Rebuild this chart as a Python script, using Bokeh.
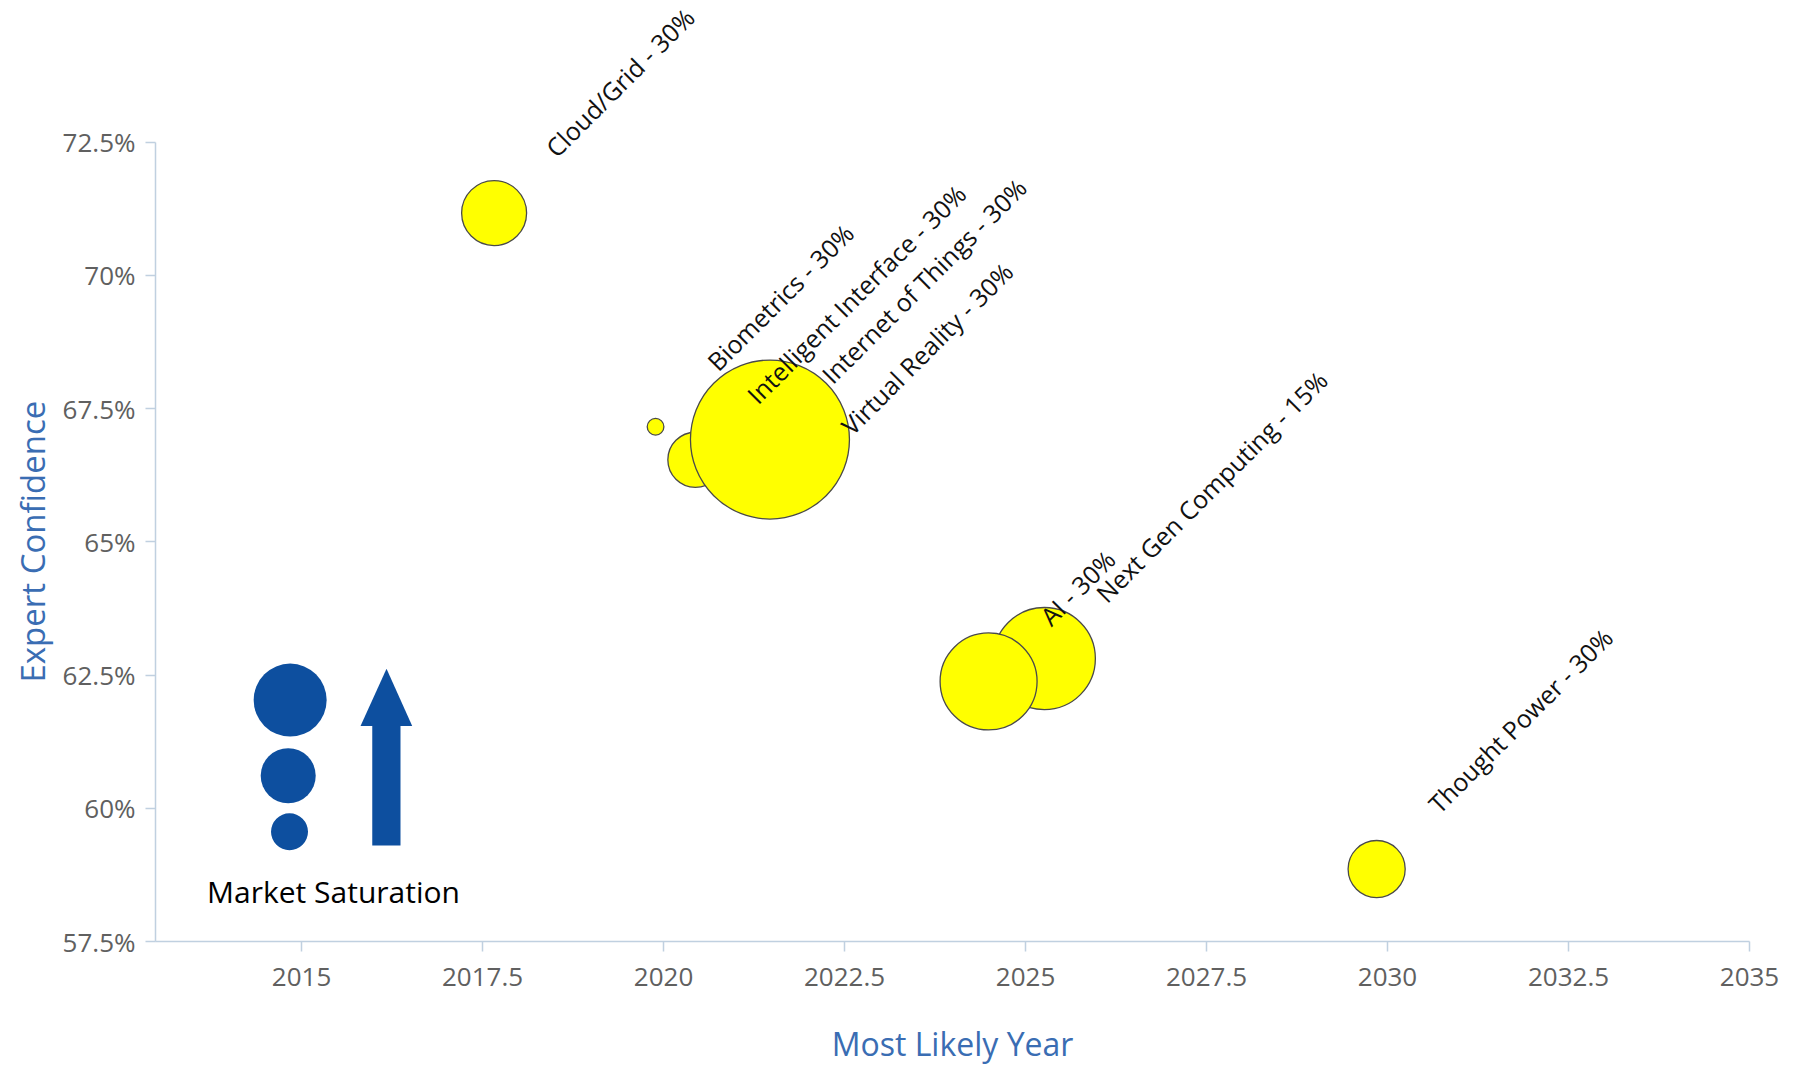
import math
from bokeh.plotting import figure
from bokeh.models import FixedTicker, Range1d, ColumnDataSource, LabelSet, Title
from bokeh.core.properties import value
from bokeh.embed import file_html
from bokeh.resources import INLINE

# ---------------- data ----------------
technologies = ["Cloud/Grid", "Biometrics", "Intelligent Interface", "Virtual Reality",
                "Internet of Things", "Next Gen Computing", "AI", "Thought Power"]
most_likely_year = [2017.66, 2019.89, 2020.44, 2021.74, 2021.47, 2025.26, 2024.49, 2029.85]
expert_confidence = [71.17, 67.16, 66.54, 65.96, 66.92, 62.81, 62.38, 58.86]
market_saturation = [16.7, 1.1, 12.0, 5.1, 100.0, 41.2, 37.2, 12.9]
label_percent = ["30%", "30%", "30%", "30%", "30%", "15%", "30%", "30%"]

x_ticks = [2015, 2017.5, 2020, 2022.5, 2025, 2027.5, 2030, 2032.5, 2035]
x_tick_labels = ["2015", "2017.5", "2020", "2022.5", "2025", "2027.5", "2030", "2032.5", "2035"]
y_ticks = [57.5, 60, 62.5, 65, 67.5, 70, 72.5]
y_tick_labels = ["57.5%", "60%", "62.5%", "65%", "67.5%", "70%", "72.5%"]

# ---------------- styling ----------------
FONT = "Open Sans"
AXIS_COLOR = "#C0D0E0"
TITLE_COLOR = "#3a6db3"
TICK_COLOR = "#606060"
BUBBLE_FILL = "#FFFF00"
BUBBLE_LINE = "#4a4a4a"
LEGEND_BLUE = "#0d4f9f"
MAX_DIAMETER = 159

# layout: plot frame reaches the top edge so the rotated labels are not clipped;
# the y axis itself is bounded to the data extent.
Y_MIN, Y_MAX = y_ticks[0], y_ticks[-1]
FRAME_H = 943            # px, frame from top of canvas to x axis
AXIS_H = 801             # px covered by Y_MIN..Y_MAX
y_top = Y_MIN + (Y_MAX - Y_MIN) * FRAME_H / AXIS_H

zmax = max(market_saturation)
diameters = [MAX_DIAMETER * math.sqrt(z / zmax) for z in market_saturation]
labels = [f"{t} - {pc}" for t, pc in zip(technologies, label_percent)]

source = ColumnDataSource(dict(x=most_likely_year, y=expert_confidence,
                               d=diameters, label=labels))

p = figure(width=1795, height=1067,
           x_range=Range1d(2012.983, 2035), y_range=Range1d(Y_MIN, y_top),
           output_backend="svg", toolbar_location=None,
           min_border_left=155, min_border_right=46,
           min_border_top=0, min_border_bottom=124)
p.outline_line_color = None
p.xgrid.visible = False
p.ygrid.visible = False
p.background_fill_color = "white"
p.border_fill_color = "white"

# axes
p.xaxis.ticker = FixedTicker(ticks=x_ticks)
p.xaxis.major_label_overrides = {t: l for t, l in zip(x_ticks, x_tick_labels)}
p.yaxis.ticker = FixedTicker(ticks=y_ticks)
p.yaxis.major_label_overrides = {t: l for t, l in zip(y_ticks, y_tick_labels)}
p.yaxis.bounds = (Y_MIN, Y_MAX)

for ax in (p.xaxis, p.yaxis):
    ax.axis_line_color = AXIS_COLOR
    ax.axis_line_width = 1.5
    ax.major_tick_line_color = AXIS_COLOR
    ax.major_tick_line_width = 1.5
    ax.major_tick_out = 10
    ax.major_tick_in = 0
    ax.minor_tick_line_color = None
    ax.major_label_text_font = FONT
    ax.major_label_text_font_size = "26px"
    ax.major_label_text_color = TICK_COLOR
    ax.axis_label_text_font = FONT
    ax.axis_label_text_font_size = "32px"
    ax.axis_label_text_font_style = "normal"
    ax.axis_label_text_color = TITLE_COLOR

p.xaxis.axis_label = "Most Likely Year"
p.xaxis.major_label_standoff = 16
p.xaxis.axis_label_standoff = 33
p.yaxis.major_label_standoff = 10

# y title: anchored at the bottom of the frame and lifted so that it is centred
# on the bounded part of the axis
TITLE_LEN = 283
y_title = Title(text="Expert Confidence", align="left",
                offset=(AXIS_H - TITLE_LEN) / 2, standoff=9,
                text_font=FONT, text_font_size="33px", text_font_style="normal",
                text_color=TITLE_COLOR)
p.add_layout(y_title, "left")

# bubbles
p.scatter("x", "y", size="d", source=source, fill_color=BUBBLE_FILL,
          line_color=BUBBLE_LINE, line_width=1.3)

# data labels
p.add_layout(LabelSet(x="x", y="y", text="label", source=source, angle=math.pi / 4,
                      x_offset=63, y_offset=54, text_align="left",
                      text_baseline="alphabetic", text_font=value(FONT),
                      text_font_size="25px", text_color="#111111"))

# ---------------- "Market Saturation" key graphic ----------------
p.scatter([2014.843, 2014.816, 2014.834], [62.03, 60.61, 59.56], size=[73, 55, 37],
          fill_color=LEGEND_BLUE, line_color=None)
p.quad(left=[2015.977], right=[2016.367], bottom=[59.30], top=[61.545],
       fill_color=LEGEND_BLUE, line_color=None)
p.patch([2015.815, 2016.529, 2016.174], [61.545, 61.545, 62.62],
        fill_color=LEGEND_BLUE, line_color=None)
p.text([2015.442], [58.44], text=["Market Saturation"], text_align="center",
       text_baseline="alphabetic", text_font=value(FONT), text_font_size="30px",
       text_color="#000000")

open("out.html", "w").write(file_html(p, INLINE, "Expert Confidence vs Most Likely Year"))
